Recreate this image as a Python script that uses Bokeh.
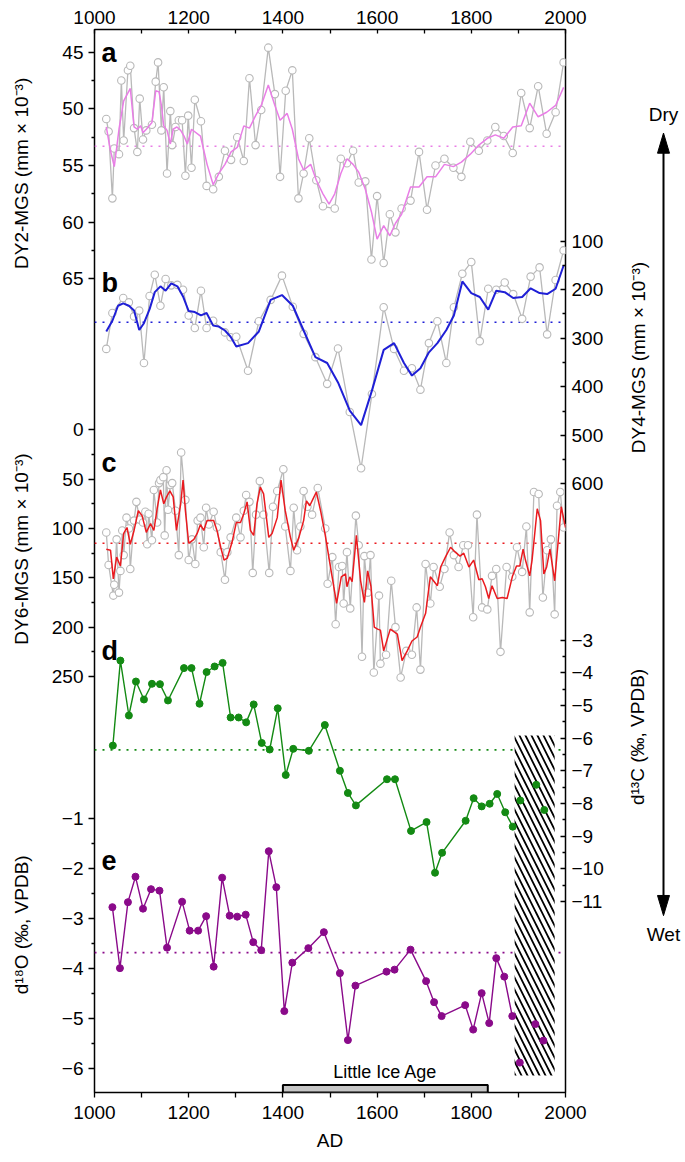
from bokeh.plotting import figure
from bokeh.layouts import row
from bokeh.models import Range1d, LinearAxis, FixedTicker, Label
from bokeh.embed import file_html
from bokeh.resources import INLINE

# ---------------- data ----------------
# (a) DY2-MGS (mm x 1e-3): raw (grey) and smoothed (pink)
A_YEAR = [1025, 1030, 1038, 1042, 1052, 1057, 1062, 1071, 1076, 1084, 1091, 1096, 1103, 1110, 1122, 1130,
          1135, 1142, 1147, 1154, 1161, 1165, 1172, 1179, 1186, 1193, 1199, 1206, 1213, 1226, 1238, 1252,
          1264, 1277, 1290, 1303, 1317, 1329, 1342, 1354, 1369, 1383, 1394, 1406, 1420, 1433, 1444, 1456,
          1471, 1485, 1510, 1523, 1536, 1549, 1561, 1575, 1588, 1600, 1614, 1627, 1639, 1652, 1671, 1689,
          1706, 1724, 1743, 1762, 1779, 1798, 1816, 1834, 1851, 1869, 1888, 1906, 1924, 1942, 1960, 1979, 1996]
A_RAW = [50.9, 52.0, 57.9, 53.5, 54.0, 47.5, 52.8, 46.6, 46.2, 51.7, 53.8, 49.1, 52.7, 51.9, 51.4, 47.6,
         45.9, 51.9, 48.1, 55.7, 50.2, 53.2, 51.6, 51.0, 51.0, 55.9, 50.6, 55.2, 49.2, 51.1, 56.8, 57.1,
         56.0, 53.7, 54.5, 52.5, 54.6, 47.3, 53.2, 50.1, 44.6, 48.7, 56.0, 48.4, 46.6, 57.9, 55.7, 52.6,
         56.3, 58.6, 58.8, 54.4, 54.8, 53.7, 56.5, 56.4, 63.3, 57.7, 63.6, 59.3, 60.9, 58.8, 58.1, 53.8,
         58.9, 55.0, 54.4, 55.2, 56.0, 52.9, 53.7, 52.8, 51.6, 52.4, 53.9, 48.6, 51.7, 48.0, 52.2, 50.3, 45.9]
A_SM_YEAR = [1025, 1034, 1042, 1052, 1062, 1076, 1084, 1091, 1098, 1103, 1110, 1122, 1130, 1137, 1142, 1147,
             1154, 1161, 1167, 1175, 1183, 1190, 1197, 1206, 1225, 1239, 1252, 1264, 1277, 1290, 1303, 1317,
             1329, 1342, 1354, 1369, 1383, 1394, 1409, 1420, 1433, 1444, 1459, 1471, 1485, 1498, 1510, 1523,
             1536, 1549, 1561, 1575, 1588, 1600, 1614, 1627, 1639, 1652, 1671, 1689, 1706, 1724, 1743, 1762,
             1779, 1798, 1816, 1834, 1851, 1869, 1888, 1906, 1924, 1942, 1960, 1979, 1996]
A_SM = [51.6, 53.7, 55.1, 51.8, 49.3, 48.2, 51.6, 51.8, 51.5, 52.1, 51.8, 51.2, 48.4, 48.5, 49.7, 51.5,
        51.9, 53.1, 51.8, 51.6, 51.9, 52.4, 53.1, 51.8, 52.4, 54.9, 56.7, 55.7, 54.9, 53.8, 53.4, 51.5,
        51.7, 50.6, 49.7, 47.9, 49.7, 51.0, 50.4, 51.8, 54.4, 55.4, 54.9, 56.3, 57.5, 58.4, 57.5, 55.7,
        54.4, 54.9, 55.6, 57.1, 59.1, 61.5, 60.3, 61.2, 60.1, 59.3, 56.9, 56.9, 56.0, 56.0, 54.9, 55.1,
        54.7, 54.0, 53.2, 52.6, 52.3, 52.6, 51.6, 51.5, 49.5, 50.7, 50.3, 49.7, 48.1]
A_MEAN = 53.3

# (b) DY4-MGS (mm x 1e-3)
B_YEAR = [1025, 1038, 1061, 1073, 1084, 1095, 1105, 1117, 1128, 1140, 1151, 1163, 1176, 1188, 1200, 1213,
          1226, 1238, 1252, 1277, 1289, 1301, 1326, 1349, 1374, 1398, 1421, 1444, 1469, 1494, 1517, 1542,
          1566, 1589, 1614, 1636, 1657, 1674, 1692, 1710, 1728, 1747, 1763, 1781, 1800, 1818, 1836, 1853,
          1871, 1889, 1908, 1926, 1945, 1961, 1979, 1996]
B_RAW = [322, 248, 217, 226, 255, 243, 351, 213, 169, 233, 178, 191, 190, 200, 253, 279,
         202, 279, 264, 288, 298, 297, 367, 265, 221, 171, 235, 291, 339, 394, 321, 452,
         568, 415, 236, 322, 367, 362, 406, 310, 265, 351, 236, 167, 143, 306, 198, 200,
         185, 209, 260, 173, 154, 292, 180, 119]
B_SM_YEAR = [1025, 1038, 1050, 1061, 1073, 1084, 1095, 1105, 1117, 1128, 1140, 1151, 1163, 1176, 1188, 1200,
             1213, 1226, 1238, 1252, 1264, 1277, 1289, 1301, 1326, 1349, 1374, 1398, 1421, 1444, 1469, 1494,
             1517, 1542, 1566, 1589, 1614, 1636, 1657, 1674, 1692, 1710, 1728, 1747, 1763, 1781, 1800, 1818,
             1836, 1853, 1871, 1889, 1908, 1926, 1945, 1961, 1979, 1996]
B_SM = [286, 264, 233, 228, 233, 243, 283, 269, 240, 205, 193, 202, 187, 193, 214, 244,
        246, 253, 248, 274, 276, 284, 297, 317, 310, 286, 221, 211, 233, 284, 339, 351,
        391, 449, 479, 408, 324, 310, 351, 377, 362, 329, 310, 283, 253, 183, 207, 215,
        241, 202, 205, 217, 215, 197, 207, 209, 198, 150]
B_MEAN = 267

# (c) DY6-MGS (mm x 1e-3)
C_YEAR = [1025, 1030, 1040, 1042, 1047, 1052, 1055, 1059, 1062, 1068, 1073, 1076, 1084, 1089, 1096, 1103,
          1108, 1112, 1115, 1122, 1126, 1133, 1137, 1140, 1146, 1149, 1153, 1156, 1161, 1165, 1172, 1179,
          1184, 1193, 1200, 1207, 1214, 1219, 1225, 1232, 1237, 1243, 1253, 1260, 1268, 1277, 1282, 1289,
          1301, 1310, 1317, 1322, 1329, 1336, 1343, 1351, 1359, 1371, 1379, 1388, 1401, 1405, 1416, 1423,
          1430, 1437, 1444, 1452, 1462, 1474, 1490, 1495, 1505, 1512, 1519, 1526, 1529, 1536, 1543, 1555,
          1561, 1568, 1573, 1580, 1586, 1593, 1604, 1607, 1619, 1630, 1639, 1650, 1662, 1674, 1684, 1692,
          1703, 1713, 1720, 1733, 1743, 1754, 1763, 1773, 1783, 1793, 1804, 1812, 1823, 1834, 1844, 1853,
          1862, 1875, 1887, 1897, 1908, 1917, 1924, 1933, 1943, 1952, 1961, 1969, 1977, 1982, 1989, 1996]
C_RAW = [104, 137, 168, 157, 111, 165, 143, 102, 127, 89, 100, 141, 92, 73, 91, 94,
         83, 116, 85, 112, 61, 94, 54, 51, 48, 107, 41, 81, 56, 54, 82, 127,
         23, 71, 132, 111, 136, 92, 89, 119, 79, 96, 83, 99, 124, 152, 124, 109,
         89, 109, 82, 66, 73, 145, 86, 52, 86, 145, 78, 62, 40, 98, 143, 79,
         122, 98, 62, 78, 86, 59, 100, 156, 129, 197, 139, 138, 176, 124, 181, 87,
         117, 230, 128, 165, 127, 246, 168, 237, 228, 153, 200, 251, 224, 228, 180, 243,
         136, 176, 139, 159, 141, 104, 127, 139, 117, 117, 190, 86, 180, 182, 148, 141,
         225, 139, 149, 119, 144, 98, 185, 63, 65, 170, 122, 111, 187, 77, 63, 99]
C_SM_YEAR = [1025, 1034, 1040, 1047, 1055, 1062, 1069, 1076, 1084, 1093, 1101, 1110, 1119, 1126, 1133, 1140,
             1147, 1153, 1160, 1167, 1174, 1183, 1188, 1193, 1200, 1211, 1218, 1225, 1232, 1239, 1246, 1253,
             1260, 1268, 1275, 1282, 1292, 1301, 1310, 1317, 1324, 1331, 1338, 1345, 1352, 1359, 1370, 1377,
             1388, 1396, 1405, 1416, 1423, 1434, 1444, 1450, 1457, 1464, 1471, 1480, 1490, 1500, 1508, 1514,
             1524, 1533, 1536, 1542, 1547, 1556, 1565, 1573, 1580, 1587, 1594, 1601, 1607, 1614, 1628, 1643,
             1653, 1664, 1674, 1685, 1692, 1703, 1713, 1728, 1735, 1745, 1756, 1766, 1776, 1784, 1795, 1805,
             1816, 1823, 1830, 1837, 1844, 1855, 1866, 1876, 1887, 1896, 1903, 1910, 1915, 1924, 1929, 1940,
             1947, 1954, 1960, 1967, 1977, 1991, 2000]
C_SM = [121, 122, 151, 129, 138, 105, 99, 116, 102, 82, 87, 104, 95, 102, 80, 61,
        75, 68, 62, 68, 102, 75, 51, 82, 115, 111, 105, 96, 102, 92, 92, 92,
        102, 119, 132, 130, 114, 94, 94, 85, 73, 102, 107, 75, 58, 65, 109, 105,
        89, 51, 82, 109, 122, 109, 92, 72, 77, 70, 63, 82, 107, 136, 159, 176,
        149, 146, 159, 149, 154, 107, 153, 175, 143, 159, 200, 202, 203, 224, 202, 207,
        234, 224, 214, 210, 200, 186, 149, 158, 139, 129, 119, 124, 128, 125, 139, 132,
        152, 151, 159, 171, 158, 171, 170, 171, 149, 138, 138, 121, 132, 148, 132, 80,
        92, 146, 139, 121, 153, 78, 99]
C_MEAN = 115

# (d) d13C (permil, VPDB)
D_YEAR = [1039, 1055, 1073, 1088, 1105, 1122, 1139, 1156, 1190, 1206, 1223, 1238, 1255, 1272, 1289, 1306,
          1322, 1338, 1355, 1372, 1389, 1406, 1422, 1455, 1489, 1521, 1538, 1555, 1621, 1638, 1672, 1705,
          1723, 1738, 1788, 1805, 1822, 1839, 1855, 1872, 1888]
D_VAL = [-6.23, -3.63, -5.31, -4.27, -4.82, -4.34, -4.35, -4.85, -3.86, -3.86, -4.95, -3.98, -3.81, -3.70, -5.37, -5.37,
         -5.52, -4.97, -6.15, -6.35, -5.09, -7.13, -6.33, -6.39, -5.60, -7.00, -7.68, -8.06, -7.26, -7.26, -8.84, -8.57,
         -10.12, -9.51, -8.53, -7.84, -8.09, -8.01, -7.71, -8.27, -8.71]
D_RECENT_YEAR = [1904, 1938, 1955]
D_RECENT = [-7.91, -7.43, -8.20]
D_MEAN = -6.36

# (e) d18O (permil, VPDB)
E_YEAR = [1038, 1054, 1071, 1087, 1103, 1120, 1138, 1154, 1186, 1202, 1220, 1237, 1253, 1271, 1287, 1303,
          1321, 1337, 1354, 1370, 1386, 1403, 1420, 1454, 1487, 1521, 1538, 1554, 1620, 1637, 1671, 1704,
          1721, 1737, 1787, 1804, 1822, 1838, 1853, 1870, 1887]
E_VAL = [-2.78, -4.00, -2.68, -2.17, -2.81, -2.42, -2.45, -3.59, -2.67, -3.25, -3.25, -2.96, -3.97, -2.19, -2.95, -2.97,
         -2.93, -3.48, -3.64, -1.66, -2.38, -4.86, -3.89, -3.60, -3.28, -4.10, -5.44, -4.35, -4.07, -4.03, -3.63, -4.26,
         -4.68, -4.96, -4.74, -5.23, -4.50, -5.10, -3.80, -4.17, -4.96]
E_RECENT_YEAR = [1903, 1936, 1953]
E_RECENT = [-5.89, -5.12, -5.45]
E_MEAN = -3.69

# annotations
LIA_YEARS = [1400, 1835]
HATCH_YEARS = [1892, 1977]
X_TICKS = [1000, 1200, 1400, 1600, 1800, 2000]
X_MINOR = [1100, 1300, 1500, 1700, 1900]
DY2_TICKS = [45, 50, 55, 60, 65]
DY4_TICKS = [100, 200, 300, 400, 500, 600]
DY6_TICKS = [0, 50, 100, 150, 200, 250]
D13C_TICKS = [-3, -4, -5, -6, -7, -8, -9, -10, -11]
D18O_TICKS = [-1, -2, -3, -4, -5, -6]

# ---------------- layout (page pixel coordinates) ----------------
H = 1160
LEFT_W, RIGHT_W = 40, 68
FR_L, FR_R, FR_T, FR_B = 94.0, 565.0, 29.0, 1092.0
MAIN_X0 = LEFT_W
MAIN_W = 575
RIGHT_X0 = MAIN_X0 + MAIN_W
X0, X1 = 1000, 2000
FONT = "Liberation Sans"
FS = "19px"

CAL = {  # value/pixel pairs for each panel scale
    "a": (45, 51.7, 65, 278.3),
    "b": (100, 240.7, 600, 483.3),
    "c": (0, 429.3, 250, 676.0),
    "d": (-3, 639.5, -11, 901.0),
    "e": (-1, 817.7, -6, 1067.6),
}


def cal_range(v1, y1, v2, y2):
    s = (v2 - v1) / (y2 - y1)
    return Range1d(start=v1 + s * (FR_B - y1), end=v1 + s * (FR_T - y1))


def pos(v, key):
    v1, y1, v2, y2 = CAL[key]
    return round(y1 + (v - v1) * (y2 - y1) / (v2 - v1), 3)


def fmt(v):
    return str(int(v)).replace("-", "\u2212")


def side_fig(x0, w):
    f = figure(width=w, height=H, x_range=Range1d(x0, x0 + w), y_range=Range1d(start=H, end=0),
               output_backend="svg", toolbar_location=None, x_axis_location=None, y_axis_location=None,
               min_border_left=0, min_border_right=0, min_border_top=0, min_border_bottom=0)
    f.grid.grid_line_color = None
    f.outline_line_color = None
    return f


p = figure(width=MAIN_W, height=H, x_range=Range1d(X0, X1), y_range=Range1d(start=FR_B, end=FR_T),
           output_backend="svg", toolbar_location=None,
           x_axis_location=None, y_axis_location=None,
           min_border_left=int(FR_L - MAIN_X0), min_border_right=int(RIGHT_X0 - FR_R),
           min_border_top=int(FR_T), min_border_bottom=int(H - FR_B))
p.grid.grid_line_color = None
p.outline_line_color = "black"
p.outline_line_width = 1.5
p.extra_y_ranges = {k: cal_range(*v) for k, v in CAL.items()}


def tick_set(groups):
    majors, minors, labels = [], [], {}
    for key, ticks in groups:
        for v in ticks:
            y = pos(v, key)
            majors.append(y)
            labels[y] = fmt(v)
        for a, b in zip(ticks[:-1], ticks[1:]):
            minors.append(pos((a + b) / 2, key))
    return majors, minors, labels


def style_axis(ax):
    ax.axis_line_color = None
    ax.major_tick_line_color = "black"
    ax.minor_tick_line_color = "black"
    ax.major_tick_line_width = 1.3
    ax.minor_tick_line_width = 1.3
    ax.major_label_text_font = FONT
    ax.major_label_text_font_size = FS
    ax.major_label_text_color = "black"


# left axis (panels a, c, e)
lmaj, lmin, llab = tick_set([("a", DY2_TICKS), ("c", DY6_TICKS), ("e", D18O_TICKS)])
left = LinearAxis(ticker=FixedTicker(ticks=lmaj, minor_ticks=lmin), major_label_overrides=llab)
style_axis(left)
left.major_tick_out, left.major_tick_in = 6, 0
left.minor_tick_out, left.minor_tick_in = 3, 0
left.major_label_standoff = 5
p.add_layout(left, "left")

# right axis (panels b, d)
rmaj, rmin, rlab = tick_set([("b", DY4_TICKS), ("d", D13C_TICKS)])
right = LinearAxis(ticker=FixedTicker(ticks=rmaj, minor_ticks=rmin), major_label_overrides=rlab)
style_axis(right)
right.major_tick_out, right.major_tick_in = 0, 5
right.minor_tick_out, right.minor_tick_in = 0, 3
right.major_label_standoff = 6
p.add_layout(right, "right")

# bottom axis
bottom = LinearAxis(ticker=FixedTicker(ticks=X_TICKS, minor_ticks=X_MINOR), axis_label="AD")
style_axis(bottom)
bottom.major_tick_out, bottom.major_tick_in = 5, 0
bottom.minor_tick_out, bottom.minor_tick_in = 5, 0
bottom.major_label_standoff = 8
bottom.axis_label_standoff = 8
bottom.axis_label_text_font = FONT
bottom.axis_label_text_font_size = FS
bottom.axis_label_text_font_style = "normal"
bottom.axis_label_text_color = "black"
p.add_layout(bottom, "below")

# top axis
top = LinearAxis(ticker=FixedTicker(ticks=X_TICKS, minor_ticks=X_MINOR))
style_axis(top)
top.major_tick_out, top.major_tick_in = 0, 4
top.minor_tick_out, top.minor_tick_in = 0, 4
top.major_label_standoff = 6
p.add_layout(top, "above")

# ---------------- series ----------------
GREY = "#b9b9b9"
PINK = "#e97ee6"
BLUE = "#1f1fd6"
RED = "#ea1a1f"
GREEN = "#138a13"
PURPLE = "#8a0a8a"

for key, m, col in [("a", A_MEAN, PINK), ("b", B_MEAN, BLUE), ("c", C_MEAN, RED),
                    ("d", D_MEAN, GREEN), ("e", E_MEAN, PURPLE)]:
    p.line([X0, X1], [m, m], y_range_name=key, line_color=col, line_width=1.6, line_dash="2 6")

# hatched recent interval
p.quad(left=HATCH_YEARS[0], right=HATCH_YEARS[1], top=735, bottom=1075,
       fill_color="white", line_color=None, hatch_pattern="left_diagonal_line",
       hatch_color="black", hatch_scale=12, hatch_weight=1.8)

for key, xs, ys, sx, sy, col, lw in [("a", A_YEAR, A_RAW, A_SM_YEAR, A_SM, PINK, 1.5),
                                     ("b", B_YEAR, B_RAW, B_SM_YEAR, B_SM, BLUE, 2.0),
                                     ("c", C_YEAR, C_RAW, C_SM_YEAR, C_SM, RED, 1.5)]:
    p.line(xs, ys, y_range_name=key, line_color=GREY, line_width=1.3)
    p.scatter(xs, ys, y_range_name=key, marker="circle", size=7.5,
              fill_color="white", line_color=GREY, line_width=1.1)
    p.line(sx, sy, y_range_name=key, line_color=col, line_width=lw)

p.line(D_YEAR, D_VAL, y_range_name="d", line_color=GREEN, line_width=1.4)
p.scatter(D_YEAR, D_VAL, y_range_name="d", marker="circle", size=7, fill_color=GREEN, line_color=GREEN)
p.scatter(D_RECENT_YEAR, D_RECENT, y_range_name="d", marker="circle", size=7, fill_color=GREEN, line_color=GREEN)

p.line(E_YEAR, E_VAL, y_range_name="e", line_color=PURPLE, line_width=1.4)
p.scatter(E_YEAR, E_VAL, y_range_name="e", marker="circle", size=7, fill_color=PURPLE, line_color=PURPLE)
p.scatter(E_RECENT_YEAR, E_RECENT, y_range_name="e", marker="circle", size=7, fill_color=PURPLE, line_color=PURPLE)

# Little Ice Age bar
p.quad(left=LIA_YEARS[0], right=LIA_YEARS[1], top=1084.5, bottom=FR_B,
       fill_color="#c6c6c6", line_color="black", line_width=2)
p.add_layout(Label(x=sum(LIA_YEARS) / 2, y=1071, text="Little Ice Age", text_align="center",
                   text_baseline="alphabetic", text_font=FONT, text_font_size="18px", text_color="black"))

# panel letters
for letter, yb in [("a", 52), ("b", 282), ("c", 462), ("d", 650), ("e", 860)]:
    p.add_layout(Label(x=X0 + (101 - FR_L) * (X1 - X0) / (FR_R - FR_L), y=yb, text=letter,
                       text_font=FONT, text_font_size="27px", text_font_style="bold",
                       text_baseline="alphabetic", text_color="black"))

# ---------------- side strips (axis titles, Dry/Wet arrow) ----------------
SUP = "(mm \u00d7 10\u207b\u00b3)"
lf = side_fig(0, LEFT_W)
for txt, ypx in [("DY2-MGS " + SUP, 157), ("DY6-MGS " + SUP, 567), ("d\u00b9\u2078O (\u2030, VPDB)", 977)]:
    lf.add_layout(Label(x=21, y=ypx, text=txt, angle=90, angle_units="deg", text_align="center",
                        text_baseline="middle", text_font=FONT, text_font_size=FS, text_color="black"))

rf = side_fig(RIGHT_X0, RIGHT_W)
for txt, xpx, ypx in [("DY4-MGS " + SUP, 638, 358), ("d\u00b9\u00b3C (\u2030, VPDB)", 637, 772)]:
    rf.add_layout(Label(x=xpx, y=ypx, text=txt, angle=90, angle_units="deg", text_align="center",
                        text_baseline="middle", text_font=FONT, text_font_size=FS, text_color="black"))

AX, A_TOP, A_BOT, HEAD_L, HEAD_W = 663, 113, 967, 22, 6
rf.segment(x0=AX, y0=A_TOP + HEAD_L - 2, x1=AX, y1=A_BOT - HEAD_L + 2, line_color="black", line_width=2)
rf.patches(xs=[[AX, AX - HEAD_W, AX + HEAD_W], [AX, AX - HEAD_W, AX + HEAD_W]],
           ys=[[A_TOP, A_TOP + HEAD_L, A_TOP + HEAD_L], [A_BOT, A_BOT - HEAD_L, A_BOT - HEAD_L]],
           fill_color="black", line_color="black", line_width=1)
for txt, ypx in [("Dry", 93), ("Wet", 988)]:
    rf.add_layout(Label(x=AX, y=ypx, text=txt, text_align="center", text_baseline="middle",
                        text_font=FONT, text_font_size=FS, text_color="black"))

layout = row(lf, p, rf)
open("out.html", "w").write(file_html(layout, INLINE))
